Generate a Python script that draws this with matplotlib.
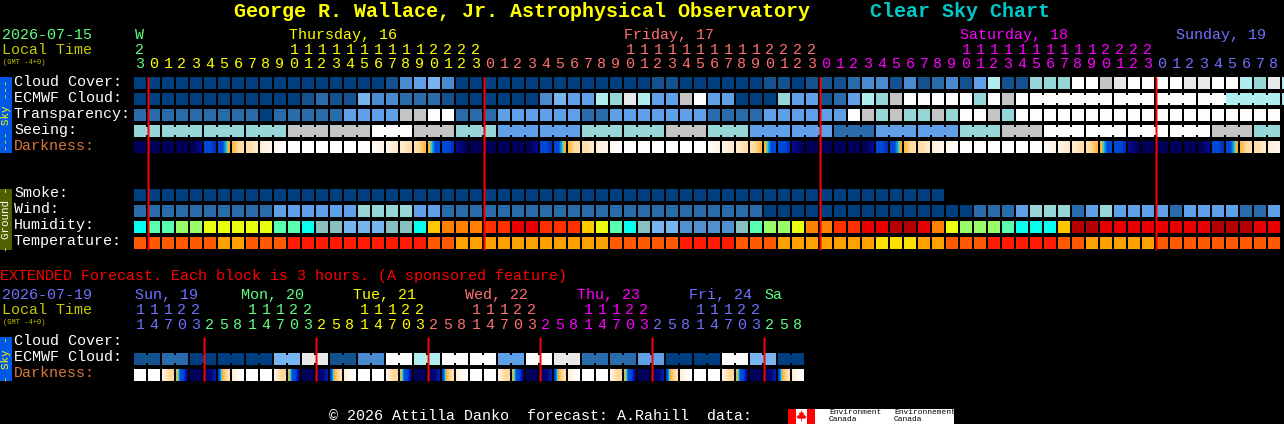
import matplotlib
matplotlib.use('Agg')
import matplotlib.pyplot as plt
import numpy as np
from matplotlib.colors import LinearSegmentedColormap
from matplotlib.patches import Polygon

plt.rcParams['font.family'] = 'Liberation Mono'

# Block values, one per hour (index into the palettes below)
cloud_cover = [0]*18 + [1, 3, 4, 5, 3] + [0]*14 + [1, 1, 0, 0, 0, 0, 0, 0, 1, 1, 0, 1, 1, 1, 2, 3,
               3, 1, 3, 1, 2, 3, 1, 4, 7, 1, 1, 6, 6, 6, 10, 10, 8, 9, 10, 10, 10, 10, 9, 9, 10, 10, 7, 6, 9, 7]
ecmwf_cloud = [0]*12 + [1, 2, 1, 1, 5, 3, 3, 2, 2, 2, 1, 0, 0, 0, 0, 0, 0, 3, 5, 4, 4, 7, 6, 9, 7, 4, 4, 8,
               10, 4, 4, 0, 0, 0, 6, 4, 4, 1, 2, 4, 7, 6, 8, 10, 10, 10, 10, 10, 6, 10, 8, 10] + [10]*14 + [7]*6
transparency = [2]*9 + [0] + [2]*5 + [4]*4 + [8, 8, 10, 10, 2, 2, 2] + [4]*6 + [2, 2] + [4]*7 + [2]*4 + [4]*6 + \
               [10, 8, 6, 8, 6, 6, 8, 6, 10, 10, 8, 6] + [10]*19
seeing = [6]*11 + [8]*6 + [10]*3 + [8]*3 + [6]*3 + [4]*6 + [6]*6 + [8]*3 + [6]*3 + [4]*6 + [2]*3 + [4]*6 + \
         [6]*3 + [8]*3 + [10]*12 + [8]*3 + [6]*2
smoke = [0]*58
wind = [2]*10 + [4]*6 + [6]*4 + [4]*2 + [2]*23 + [0]*15 + [2]*3 + [4, 6, 6, 6, 2, 4, 6, 4, 4, 4, 4, 2, 4, 4, 4, 4, 2, 2, 4]
humidity = [3, 4, 4, 5, 5, 6, 6, 6, 6, 6, 4, 4, 3, 2, 2, 1, 1, 1, 2, 2, 3, 7, 8, 8, 8, 9, 9, 10, 10, 9, 9, 9, 7, 6,
            4, 3, 2, 1, 1, 0, 0, 0, 0, 2, 4, 5, 5, 6, 8, 8, 9, 9, 10, 10, 11, 11, 10, 8, 6, 5, 5, 5, 4, 3, 3, 3, 7,
            11, 11, 10, 10, 10, 10, 10, 10, 10, 10, 11, 11, 11, 10, 10]
temperature = [2]*6 + [1, 1] + [2]*3 + [3]*10 + [2, 2] + [1]*11 + [2]*5 + [3]*4 + [2]*3 + [1]*7 + [0]*3 + [1, 1] + \
              [2]*3 + [3]*5 + [2, 2] + [1]*5 + [2]*9
ext_ecmwf = [1, 1, 2, 2, 0, 0, 0, 0, 0, 0, 5, 5, 9, 9, 1, 1, 3, 3, 10, 10, 7, 7, 10, 10,
             10, 10, 4, 4, 10, 10, 9, 9, 2, 2, 2, 2, 4, 4, 0, 0, 0, 0, 10, 10, 5, 5, 0, 0]

# Blocks that run together: (first, last)
ecmwf_runs = [(64, 69), (70, 72), (73, 75), (76, 81)]
seeing_runs = [(0, 1), (2, 4), (5, 7), (8, 10), (11, 13), (14, 16), (17, 19), (20, 22), (23, 25), (26, 28), (29, 31),
               (32, 34), (35, 37), (38, 40), (41, 43), (44, 46), (47, 49), (50, 52), (53, 55), (56, 58), (59, 61),
               (62, 64), (65, 67), (68, 70), (71, 73), (74, 76), (77, 79), (80, 81)]
ext_runs = [(i, i + 1) for i in range(0, 48, 2)]

# Darkness, 4 samples across each block
night = (0, 0, 0, 0)
white = (8, 8, 8, 8)
dark_day = [
    night, night, night, night, (0, 0, 0.5, 1), (2, 2, 2, 1.6), (2, 2, 3.3, 5), (5.2, 5.7, 6, 6), (6, 6.2, 6.5, 6.6),
    (6.8, 7, 7.2, 7.3), (7.4, 7.6, 7.8, 8), white, white, white, white, white, white, (7.8, 7.5, 7.3, 7.2),
    (7.2, 7, 6.8, 6.6), (6.8, 6.6, 6.3, 6), (6.2, 6, 5.6, 5.2), (5, 3.3, 2, 2), (2, 2, 2, 1.6), (1, 0.7, 0.3, 0)]
darkness = (dark_day * 4)[:82]
ext_cream = (7, 6.4, 5.9, 5.9)
ext_fall = (4.7, 2, 2, 1)
ext_rise = (0, 0.4, 0.8, 1.3)
ext_dawn = (2, 5, 5.7, 6.3)
ext_morn = (6.8, 7.3, 7.7, 8)
darkness_ext = ([white, white, ext_cream, ext_fall, night, ext_rise, ext_dawn, ext_morn] * 6)

# Hour labels of both charts
hour_days = [0] + [1]*24 + [2]*24 + [3]*24 + [4]*9
hours = [23] + list(range(24)) * 3 + list(range(9))
ext_days = [4]*5 + [0]*8 + [1]*8 + [2]*8 + [3]*8 + [4]*8 + [0]*3
ext_hours = [11, 14, 17, 20, 23] + [2, 5, 8, 11, 14, 17, 20, 23]*5 + [2, 5, 8]

day_colors = ['#60ff80', '#ffff00', '#ff7070', '#ff00ff', '#7070ff']
day_labels = [('W', 135, 0), ('Thursday, 16', 289, 1), ('Friday, 17', 624, 2), ('Saturday, 18', 960, 3), ('Sunday, 19', 1176, 4)]
ext_day_labels = [('Sun, 19', 135, 4), ('Mon, 20', 241, 0), ('Tue, 21', 353, 1), ('Wed, 22', 465, 2), ('Thu, 23', 577, 3),
                  ('Fri, 24', 689, 4), ('Sa', 764, 0)]

cloud_colors = ['#003f7f', '#13528f', '#2a6bab', '#4a8ad0', '#60a0e8', '#78b4f0', '#96d6d6', '#aeeeee', '#c4c4c4',
                '#e8e8e8', '#fdfdfd']
humidity_colors = ['#5090d0', '#78b4f0', '#88c0c0', '#08fff0', '#5affb0', '#98ff68', '#eaff10', '#ffc800', '#ff8000',
                   '#ff3000', '#e80000', '#b40000']
temp_colors = ['#ffe000', '#ffa000', '#ff5a00', '#ff1c00']
dark_cmap = LinearSegmentedColormap.from_list('darkness', [
    '#00005a', '#000a90', '#0048d8', '#0090f0', '#40d8c0', '#ffb030', '#ffdca0', '#fff2e0', '#ffffff'])

X0 = 134
STEP = 14
SIZE = 12

fig = plt.figure(figsize=(12.84, 4.24), dpi=100, facecolor='black')
ax = fig.add_axes([0, 0, 1, 1])
ax.set_facecolor('black')
ax.set_xlim(0, 1284)
ax.set_ylim(424, 0)
ax.set_autoscale_on(False)
ax.axis('off')


def draw_row(values, colors, y, runs=()):
    x = X0 + STEP * np.arange(len(values))
    ax.bar(x, SIZE, SIZE, y, align='edge', color=[colors[v] for v in values], linewidth=0, antialiased=False)
    for first, last in runs:
        for i in range(first, last):
            ax.bar(x[i] + SIZE, SIZE - 4, STEP - SIZE, y + 2, align='edge', color=colors[values[i]], linewidth=0,
                   antialiased=False)


def draw_darkness(samples, y):
    for i, s in enumerate(samples):
        x = X0 + STEP * i
        ax.imshow([s], cmap=dark_cmap, vmin=0, vmax=8, extent=(x, x + SIZE, y + SIZE, y), aspect='auto',
                  interpolation='bilinear', interpolation_stage='data')


draw_row(cloud_cover, cloud_colors, 77)
draw_row(ecmwf_cloud, cloud_colors, 93, ecmwf_runs)
draw_row(transparency, cloud_colors, 109)
draw_row(seeing, cloud_colors, 125, seeing_runs)
draw_darkness(darkness, 141)
draw_row(smoke, cloud_colors, 189)
draw_row(wind, cloud_colors, 205)
draw_row(humidity, humidity_colors, 221)
draw_row(temperature, temp_colors, 237)
draw_row(ext_ecmwf, cloud_colors, 353, ext_runs)
draw_darkness(darkness_ext, 369)

# red midnight lines
for x in [147, 483, 819, 1155]:
    ax.fill_between([x, x + 2], 77, 250, color='#ff0000', linewidth=0, zorder=5, snap=False)
for x in [203, 315, 427, 539, 651, 763]:
    ax.fill_between([x, x + 2], 337, 381, color='#ff0000', linewidth=0, zorder=5, snap=False)

# side bars
ax.bar(0, 76, 12, 77, align='edge', color='#0058e8', linewidth=0, antialiased=False)
ax.bar(0, 61, 12, 189, align='edge', color='#4f6000', linewidth=0, antialiased=False)
ax.bar(0, 44, 12, 337, align='edge', color='#0058e8', linewidth=0, antialiased=False)
ax.text(6, 115, '--- Sky ---', color='#ffff00', fontsize=7.8, rotation=90, ha='center', va='center')
ax.text(6, 219.5, '- Ground -', color='white', fontsize=7.8, rotation=90, ha='center', va='center')
ax.text(6, 359, '- Sky -', color='#ffff00', fontsize=7.8, rotation=90, ha='center', va='center')

# title
ax.text(234, 17, 'George R. Wallace, Jr. Astrophysical Observatory', color='#ffff00', fontsize=14.4, fontweight='bold')
ax.text(870, 17, 'Clear Sky Chart', color='#00c8c8', fontsize=14.4, fontweight='bold')

FS = 10.8
row_labels = [('Cloud Cover:', 86), ('ECMWF Cloud:', 102), ('Transparency:', 118), ('Seeing:', 134), ('Smoke:', 197),
              ('Wind:', 213), ('Humidity:', 229), ('Temperature:', 245), ('Cloud Cover:', 345), ('ECMWF Cloud:', 361)]
for label, y in row_labels:
    ax.text(14, y, label, color='white', fontsize=FS)
ax.text(14, 150, 'Darkness:', color='#d87838', fontsize=FS)
ax.text(14, 377, 'Darkness:', color='#d87838', fontsize=FS)

ax.text(2, 39, '2026-07-15', color='#60ff80', fontsize=FS)
ax.text(2, 54, 'Local Time', color='#c8c800', fontsize=FS)
ax.text(3, 64, '(GMT -4+0)', color='#c8c800', fontsize=5)
ax.text(2, 299, '2026-07-19', color='#7070ff', fontsize=FS)
ax.text(2, 314, 'Local Time', color='#c8c800', fontsize=FS)
ax.text(3, 324, '(GMT -4+0)', color='#c8c800', fontsize=5)
ax.text(0, 280, 'EXTENDED Forecast. Each block is 3 hours. (A sponsored feature)', color='#ff0000', fontsize=FS)

for label, x, d in day_labels:
    ax.text(x, 39, label, color=day_colors[d], fontsize=FS)
for label, x, d in ext_day_labels:
    ax.text(x, 299, label, color=day_colors[d], fontsize=FS)

for i, (h, d) in enumerate(zip(hours, hour_days)):
    x = X0 + STEP * i + 6
    ax.text(x, 68, str(h % 10), color=day_colors[d], fontsize=FS, ha='center')
    if h >= 10:
        ax.text(x, 54, str(h // 10), color=day_colors[d], fontsize=FS, ha='center')
for i, (h, d) in enumerate(zip(ext_hours, ext_days)):
    x = X0 + STEP * i + 6
    ax.text(x, 329, str(h % 10), color=day_colors[d], fontsize=FS, ha='center')
    if h >= 10:
        ax.text(x, 314, str(h // 10), color=day_colors[d], fontsize=FS, ha='center')

# footer
ax.text(329, 420, '© 2026 Attilla Danko  forecast: A.Rahill  data:', color='white', fontsize=FS)
ax.bar(788, 15, 166, 409, align='edge', color='white', linewidth=0, antialiased=False)
ax.bar([788, 807], 15, 8, 409, align='edge', color='#ff0000', linewidth=0, antialiased=False)
leaf = np.array([(0, -6), (1.2, -3.5), (2.5, -4), (2, -1), (4, -2), (3.5, -.5), (5, 0), (4, 2), (1, 2.2), (.4, 2), (.4, 5),
                 (-.4, 5), (-.4, 2), (-1, 2.2), (-4, 2), (-5, 0), (-3.5, -.5), (-4, -2), (-2, -1), (-2.5, -4), (-1.2, -3.5)])
ax.add_patch(Polygon(leaf + [801.5, 416.5], closed=True, color='#ff0000', linewidth=0))
ax.text(829, 414, 'Environment', color='black', fontsize=5.7)
ax.text(829, 421, 'Canada', color='black', fontsize=5.7)
ax.text(894, 414, 'Environnement', color='black', fontsize=5.7)
ax.text(894, 421, 'Canada', color='black', fontsize=5.7)

plt.savefig('out.png', dpi=100, facecolor='black')
